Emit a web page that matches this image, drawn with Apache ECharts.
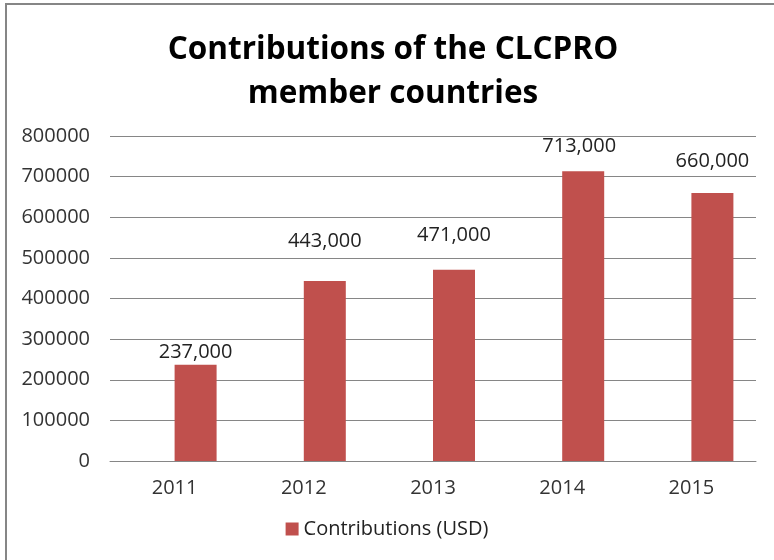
<!DOCTYPE html>
<html><head><meta charset="utf-8">
<script src="https://cdn.jsdelivr.net/npm/echarts@6/dist/echarts.min.js"></script>
<style>html,body{margin:0;padding:0;background:#fff}#c{width:774px;height:560px}</style>
</head><body><div id="c"></div>
<script>
const categories = ['2011','2012','2013','2014','2015'];
const contributions = [237000, 443000, 471000, 713000, 660000];
const seriesName = 'Contributions (USD)';
const titleText = 'Contributions of the CLCPRO\nmember countries';
// manual label placement (pixel offsets) as in the reference
const labelOffsets = [[0, 0], [0, -28], [0, -22], [-4, -13], [0, -20]];

const chart = echarts.init(document.getElementById('c'));
const font = '"Open Sans", "Noto Sans", sans-serif';
chart.setOption({
  animation: false,
  backgroundColor: '#fff',
  title: {
    text: titleText, left: 388, top: 23, textAlign: 'center',
    textStyle: {fontFamily: font, fontWeight: 'bold', fontSize: 31.5, lineHeight: 44, color: '#000'}
  },
  graphic: [{type: 'rect', shape: {x: 6, y: 4, width: 820, height: 620}, style: {fill: 'none', stroke: '#868686', lineWidth: 2}, silent: true}],
  legend: {
    top: 514, left: 'center', itemWidth: 13, itemHeight: 13, itemGap: 4,
    icon: 'rect',
    textStyle: {fontFamily: font, fontSize: 20, color: '#222'},
    data: [seriesName]
  },
  grid: {left: 110, right: 18, top: 136, bottom: 99, containLabel: false},
  xAxis: {
    type: 'category', data: categories,
    axisLine: {lineStyle: {color: '#868686'}}, axisTick: {show: false},
    axisLabel: {fontFamily: font, fontSize: 20, color: '#333', margin: 17}
  },
  yAxis: {
    type: 'value', min: 0, max: 800000, interval: 100000,
    axisLine: {show: false}, axisTick: {show: false},
    splitLine: {lineStyle: {color: '#868686'}},
    axisLabel: {fontFamily: font, fontSize: 20, color: '#333', margin: 20, formatter: v => String(v)}
  },
  series: [
    {name: '', type: 'bar', data: [], barWidth: 42, barGap: '0%'},
    {
      name: seriesName, type: 'bar', barWidth: 42, barGap: '0%',
      data: contributions.map((v, i) => ({value: v, label: {offset: labelOffsets[i]}})),
      itemStyle: {color: '#C0504D'},
      label: {show: true, position: 'top', distance: 2, fontFamily: font, fontSize: 20, color: '#222',
        formatter: p => p.value.toLocaleString('en-US')}
    }
  ]
});
</script></body></html>
